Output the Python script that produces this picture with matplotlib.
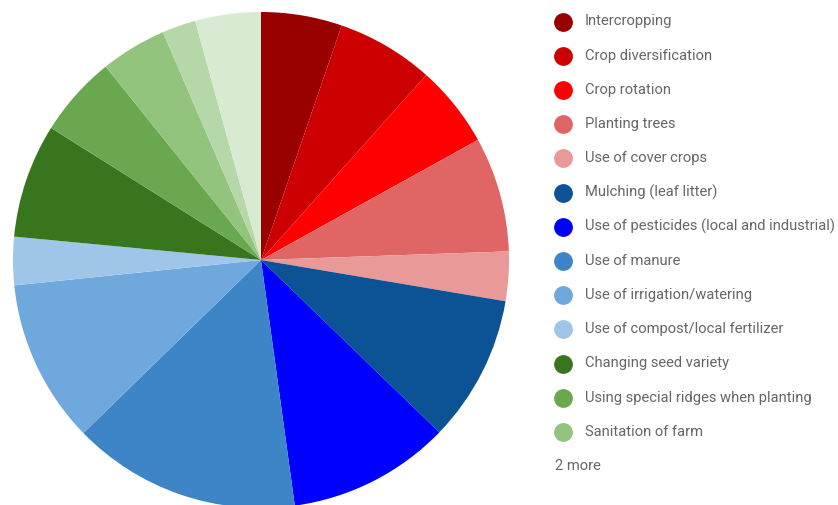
import matplotlib.pyplot as plt

# share of responses per practice (percent)
practices = [
    "Intercropping",
    "Crop diversification",
    "Crop rotation",
    "Planting trees",
    "Use of cover crops",
    "Mulching (leaf litter)",
    "Use of pesticides (local and industrial)",
    "Use of manure",
    "Use of irrigation/watering",
    "Use of compost/local fertilizer",
    "Changing seed variety",
    "Using special ridges when planting",
    "Sanitation of farm",
    "Other 1",
    "Other 2",
]
shares = [5.28, 6.33, 5.36, 7.5, 3.22, 9.58, 10.6, 14.9, 10.67, 3.14,
          7.44, 5.3, 4.3, 2.2, 4.28]
colors = ["#990000", "#cc0000", "#ff0000", "#e06666", "#ea9999",
          "#0b5394", "#0000ff", "#3d85c6", "#6fa8dc", "#9fc5e8",
          "#38761d", "#6aa84f", "#93c47d", "#b6d7a8", "#d9ead3"]
n_shown = 13

W, H = 838, 505
fig = plt.figure(figsize=(W / 100, H / 100), dpi=100)

# pie centred at (261, 260) px, radius 248 px
cx, cy, r = 261, 260, 248
ax = fig.add_axes([(cx - r) / W, (H - cy - r) / H, 2 * r / W, 2 * r / H])
ax.pie(shares, colors=colors, startangle=90, counterclock=False, radius=1,
       wedgeprops=dict(linewidth=0))
ax.set_xlim(-1, 1)
ax.set_ylim(-1, 1)
ax.set_aspect("equal")
ax.axis("off")

# legend drawn by hand: dot + label per row
row0, step = 21.5, 34.2
for i in range(n_shown):
    y = 1 - (row0 + i * step) / H
    fig.lines.append(plt.Line2D([563 / W], [y], marker="o", markersize=12.5,
                                color=colors[i], linestyle="none",
                                transform=fig.transFigure))
    fig.text(585 / W, y, practices[i], fontsize=10.6, family="Roboto",
             color="#666666", va="center", ha="left")
fig.text(555 / W, 1 - (row0 + n_shown * step) / H, "2 more", fontsize=10.6,
         family="Roboto", color="#666666", va="center", ha="left")

fig.savefig("out.png", dpi=100)
